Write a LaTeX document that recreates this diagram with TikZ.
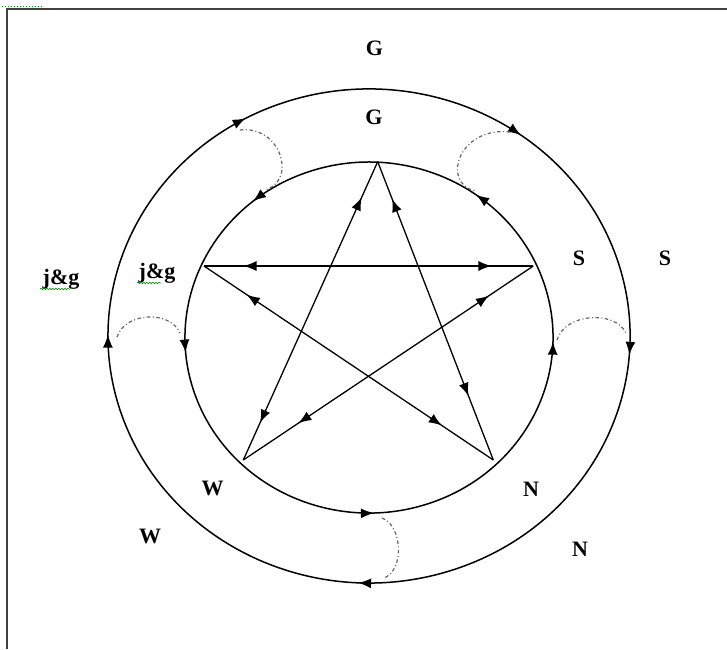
\documentclass[tikz,border=0pt]{standalone}
\usepackage{fontspec}
\setmainfont{Liberation Serif}
\usetikzlibrary{arrows.meta,decorations.markings,decorations.pathmorphing}
\tikzset{bigtip/.tip={Latex[length=13pt,width=10pt]}}
\begin{document}
\begin{tikzpicture}[x=1pt,y=-1pt,
  lbl/.style={font=\fontsize{22}{26}\selectfont\bfseries, inner sep=0pt, anchor=base},
  ring/.style={line width=1.5pt, black},
  starline/.style={line width=1.3pt, black},
  conn/.style={line width=1.2pt, black!60, dash pattern=on 3.5pt off 2.5pt on 1pt off 2.5pt},
  frameline/.style={line width=2pt, black!75},
  twoway/.style 2 args={postaction={decorate}, decoration={markings,
      mark=at position #1 with {\arrowreversed{bigtip}},
      mark=at position #2 with {\arrow{bigtip}}}},
  spell/.style={green!55!black, line width=0.6pt, decorate,
      decoration={snake, amplitude=0.8pt, segment length=3pt}},
]
\useasboundingbox (0,0) rectangle (727,649);

% frame
\draw[frameline] (7,649) -- (7,9) -- (727,9);
\draw[green!55!black, line width=1pt, dotted] (2,6) -- (42,6);

% inner ring, counterclockwise on screen
\draw[ring, postaction={decorate}, decoration={markings,
    mark=at position 0.095 with {\arrow{bigtip}},
    mark=at position 0.306 with {\arrow{bigtip}},
    mark=at position 0.459 with {\arrow{bigtip}},
    mark=at position 0.700 with {\arrow{bigtip}},
    mark=at position 0.942 with {\arrow{bigtip}}}]
  (541.9,277.5) arc[start angle=-20, end angle=-380, x radius=184, y radius=175.5];

% outer ring, clockwise on screen
\draw[ring, postaction={decorate}, decoration={markings,
    mark=at position 0.066 with {\arrow{bigtip}},
    mark=at position 0.311 with {\arrow{bigtip}},
    mark=at position 0.555 with {\arrow{bigtip}},
    mark=at position 0.724 with {\arrow{bigtip}},
    mark=at position 0.905 with {\arrow{bigtip}}}]
  (614.3,251.5) arc[start angle=-20, end angle=340, x radius=261, y radius=247];

% star vertices
\coordinate (T) at (377.7,161.7);
\coordinate (L) at (204,266);
\coordinate (R) at (533.3,266);
\coordinate (BL) at (243.3,460);
\coordinate (BR) at (493.3,460);

\draw[starline, twoway={0.12}{0.875}] (T) -- (BL);
\draw[starline, twoway={0.125}{0.785}] (T) -- (BR);
\draw[starline, twoway={0.12}{0.873}] (L) -- (R);
\draw[starline, twoway={0.148}{0.822}] (L) -- (BR);
\draw[starline, twoway={0.153}{0.81}] (R) -- (BL);

% dash-dot connectors between the rings
\coordinate (c1a) at (240,130);  \coordinate (c1b) at (265,190);
\coordinate (c2a) at (510,132);  \coordinate (c2b) at (475,191);
\coordinate (c3a) at (117,337);  \coordinate (c3b) at (180,333);
\coordinate (c4a) at (557,340);  \coordinate (c4b) at (626,333);
\coordinate (c5a) at (382,518);  \coordinate (c5b) at (384,578);
\draw[conn] (c1a) .. controls (280,125) and (298,180) .. (c1b);
\draw[conn] (c2a) .. controls (460,126) and (440,182) .. (c2b);
\draw[conn] (c3a) .. controls (125,312) and (170,310) .. (c3b);
\draw[conn] (c4a) .. controls (565,313) and (615,310) .. (c4b);
\draw[conn] (c5a) .. controls (402,525) and (405,570) .. (c5b);

% labels
\node[lbl] (Go) at (374.5,55) {G};
\node[lbl] (Gi) at (374,124) {G};
\node[lbl] (Si) at (579,265) {S};
\node[lbl] (So) at (665,265) {S};
\node[lbl] (Jo) at (61,284) {j\&g};
\node[lbl] (Ji) at (157,278) {j\&g};
\node[lbl] (Wi) at (212.5,495) {W};
\node[lbl] (Wo) at (150,543) {W};
\node[lbl] (Ni) at (531,496) {N};
\node[lbl] (No) at (580,556) {N};

% spell-check underlines
\draw[spell] (40,289) -- (70,289);
\draw[spell] (137,283) -- (161,283);
\end{tikzpicture}
\end{document}
